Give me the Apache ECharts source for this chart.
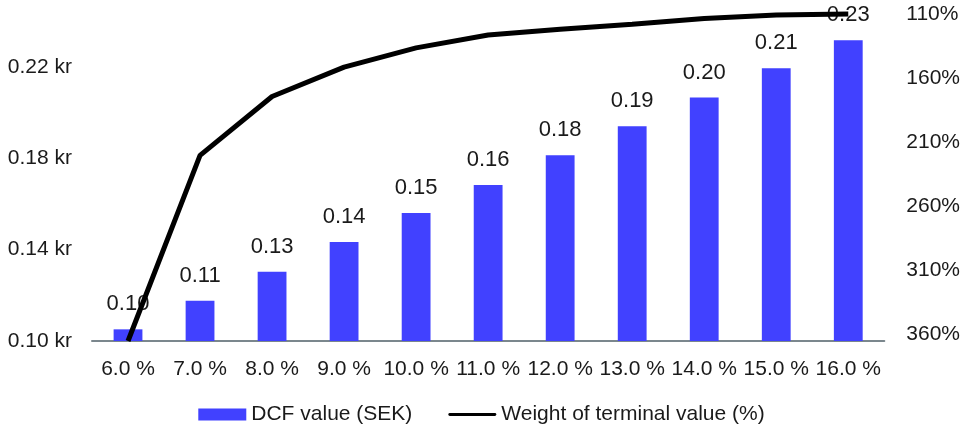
<!DOCTYPE html>
<html>
<head>
<meta charset="utf-8">
<script src="https://cdn.jsdelivr.net/npm/echarts@6/dist/echarts.min.js"></script>
<style>
html,body{margin:0;padding:0;background:#fff;}
#chart{width:963px;height:433px;}
</style>
</head>
<body>
<div id="chart"></div>
<script>
const categories = ['6.0 %','7.0 %','8.0 %','9.0 %','10.0 %','11.0 %','12.0 %','13.0 %','14.0 %','15.0 %','16.0 %'];
const dcfValue = [0.1051, 0.1176, 0.1303, 0.1433, 0.1560, 0.1682, 0.1813, 0.1940, 0.2065, 0.2193, 0.2316];
const terminalWeight = [360, 215, 169, 146, 131, 121, 116.5, 112.5, 108, 105.3, 104.5];
const leftTicks = {min: 0.10, max: 0.24, interval: 0.04};
const rightTicks = {min: 110, max: 360, interval: 50};

const FONT = 'Liberation Sans, Arial, sans-serif';
const chart = echarts.init(document.getElementById('chart'), null, {renderer: 'canvas'});
chart.setOption({
  animation: false,
  textStyle: {fontFamily: FONT},
  grid: {left: 92, right: 77, top: 21, bottom: 92, containLabel: false},
  legend: {
    bottom: 3, left: 'center', itemGap: 36, itemWidth: 48, itemHeight: 12,
    textStyle: {fontSize: 21, color: '#1a1a1a', fontFamily: FONT},
    data: [
      {name: 'DCF value (SEK)', icon: 'rect'},
      {name: 'Weight of terminal value (%)', icon: 'path://M2,0 H78 A2,2 0 0 1 78,5 H2 A2,2 0 0 1 2,0 Z'}
    ]
  },
  xAxis: {
    type: 'category', data: categories,
    axisLine: {lineStyle: {color: '#7b878d', width: 2}},
    axisTick: {show: false},
    axisLabel: {fontSize: 21, color: '#1a1a1a', margin: 18, interval: 0}
  },
  yAxis: [
    {
      type: 'value', min: leftTicks.min, max: leftTicks.max, interval: leftTicks.interval,
      splitLine: {show: false}, axisLine: {show: false}, axisTick: {show: false},
      axisLabel: {fontSize: 21, color: '#1a1a1a', margin: 20, showMaxLabel: false,
        formatter: v => v.toFixed(2) + ' kr'}
    },
    {
      type: 'value', position: 'right', inverse: true,
      min: rightTicks.min, max: rightTicks.max, interval: rightTicks.interval,
      splitLine: {show: false}, axisLine: {show: false}, axisTick: {show: false},
      axisLabel: {fontSize: 21, color: '#1a1a1a', margin: 22, verticalAlign: 'bottom',
        lineHeight: 14, formatter: v => v + '%'}
    }
  ],
  series: [
    {
      name: 'DCF value (SEK)', type: 'bar', data: dcfValue, barWidth: '40%',
      itemStyle: {color: '#4141ff'},
      label: {show: true, position: 'top', distance: 14, fontSize: 22, color: '#1a1a1a',
        formatter: p => (Math.floor(p.value * 100 + 1e-9) / 100).toFixed(2)}
    },
    {
      name: 'Weight of terminal value (%)', type: 'line', yAxisIndex: 1, data: terminalWeight,
      symbol: 'none', clip: false,
      lineStyle: {color: '#000', width: 5},
      itemStyle: {color: '#000'}
    }
  ]
});
</script>
</body>
</html>
